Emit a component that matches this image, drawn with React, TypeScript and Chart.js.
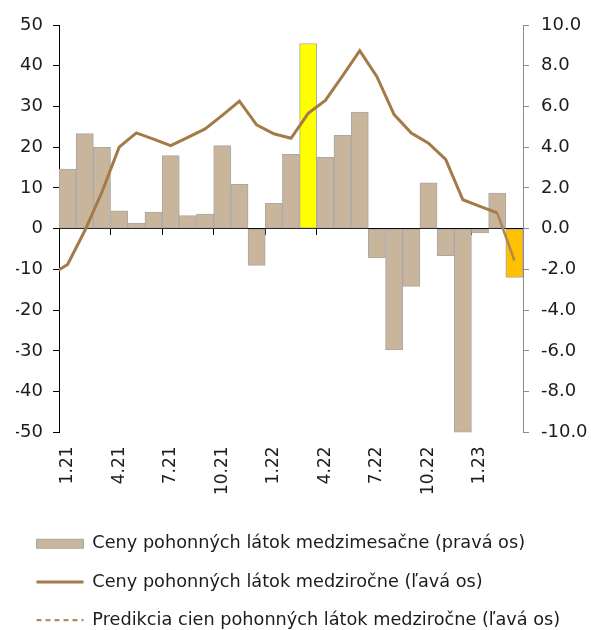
import React, { useEffect, useRef } from 'react';
import { Chart, registerables } from 'chart.js';

Chart.register(...registerables);

const FONT = "'DejaVu Sans', Verdana, sans-serif";

const categories = [
  '1.21', '2.21', '3.21', '4.21', '5.21', '6.21', '7.21', '8.21', '9.21', '10.21', '11.21', '12.21',
  '1.22', '2.22', '3.22', '4.22', '5.22', '6.22', '7.22', '8.22', '9.22', '10.22', '11.22', '12.22',
  '1.23', '2.23', '3.23',
];

// Month-on-month fuel prices (right axis, %)
const monthlyChange = [
  2.93, 4.67, 4.0, 0.88, 0.28, 0.82, 3.59, 0.64, 0.72, 4.08, 2.18, -1.8,
  1.24, 3.65, 9.09, 3.5, 4.58, 5.73, -1.44, -5.95, -2.83, 2.25, -1.33, -10.0,
  -0.21, 1.75, -2.39,
];

// Year-on-year fuel prices (left axis, %), 1.21 .. 2.23
const yearlyChange = [
  -8.8, -0.5, 9.0, 20.0, 23.5, 22.0, 20.4, 22.4, 24.5, 27.8, 31.3, 25.5,
  23.3, 22.2, 28.3, 31.5, 37.5, 43.7, 37.3, 28.0, 23.5, 21.0, 17.0, 7.1,
  5.5, 3.9,
];
// Year-on-year value for 12.20 (only the segment entering the plot is visible)
const yearlyBefore = -11.4;

// Prediction of year-on-year fuel prices (left axis), 2.23 .. 3.23
const predictionLabels = ['2.23', '3.23'];
const predictionValues = [3.9, -7.8];

const leftTicks = { min: -50, max: 50, step: 10 };
const rightTicks = { min: -10, max: 10, step: 2 };

const seriesNames = [
  'Ceny pohonných látok medzimesačne (pravá os)',
  'Ceny pohonných látok medziročne (ľavá os)',
  'Predikcia cien pohonných látok medziročne (ľavá os)',
];

const highlightYellowLabel = '3.22';
const highlightOrangeLabel = '3.23';

export default function App() {
  const canvasRef = useRef<HTMLCanvasElement | null>(null);

  useEffect(() => {
    if (!canvasRef.current) return;
    const textColor = '#1c1c1c';
    const tan = '#C9B49C';
    const lineColor = '#A47A48';
    const predColor = '#AD8654';
    const yellowIdx = categories.indexOf(highlightYellowLabel);
    const orangeIdx = categories.indexOf(highlightOrangeLabel);

    // category index positions; -1 is the month before the first category
    const linePoints = [{ x: -1, y: yearlyBefore }].concat(
      yearlyChange.map((v, i) => ({ x: i, y: v }))
    );
    const predData = categories.map((c) => {
      const k = predictionLabels.indexOf(c);
      return k >= 0 ? predictionValues[k] : null;
    });

    const chart = new Chart(canvasRef.current, {
      type: 'bar',
      data: {
        labels: categories,
        datasets: [
          {
            type: 'bar',
            label: seriesNames[0],
            data: monthlyChange,
            xAxisID: 'x',
            yAxisID: 'y2',
            backgroundColor: (ctx: any) =>
              ctx.dataIndex === yellowIdx ? '#FFFF00' : ctx.dataIndex === orangeIdx ? '#FFC000' : tan,
            borderColor: '#A8A8A8',
            borderWidth: 1,
            borderSkipped: false,
            barPercentage: 1,
            categoryPercentage: 1,
            order: 2,
          } as any,
          {
            type: 'line',
            label: seriesNames[1],
            data: linePoints,
            parsing: false,
            xAxisID: 'x',
            yAxisID: 'y',
            borderColor: lineColor,
            backgroundColor: lineColor,
            borderWidth: 3,
            pointRadius: 0,
            tension: 0,
            order: 1,
            clip: 0,
          } as any,
          {
            type: 'line',
            label: seriesNames[2],
            data: predData,
            xAxisID: 'x',
            yAxisID: 'y',
            borderColor: predColor,
            backgroundColor: predColor,
            borderWidth: 2.5,
            pointRadius: 0,
            tension: 0,
            order: 1,
          } as any,
        ],
      },
      options: {
        animation: false,
        responsive: true,
        maintainAspectRatio: false,
        layout: { padding: { left: 16, top: 25, right: 0, bottom: 0 } },
        plugins: {
          tooltip: { enabled: false },
          legend: {
            position: 'bottom',
            align: 'start',
            labels: {
              usePointStyle: true,
              pointStyleWidth: 47,
              boxHeight: 9,
              padding: 20.5,
              color: textColor,
              font: { size: 17.7, family: FONT },
              generateLabels: (c: any) => {
                const items = (Chart.defaults.plugins.legend.labels as any).generateLabels(c);
                return items
                  .map((it: any) => ({
                    ...it,
                    pointStyle: it.datasetIndex === 0 ? 'rect' : 'line',
                    lineDash: it.datasetIndex === 2 ? [5, 4] : it.lineDash,
                    lineWidth: it.datasetIndex === 2 ? 2.2 : it.lineWidth,
                    strokeStyle: it.datasetIndex === 2 ? '#B48C5A' : it.strokeStyle,
                  }))
                  .sort((a: any, b: any) => a.datasetIndex - b.datasetIndex);
              },
            },
          },
        },
        scales: {
          x: {
            type: 'category',
            labels: categories,
            position: 'bottom',
            offset: true,
            grid: { display: false, drawTicks: false },
            border: { display: false },
            ticks: {
              autoSkip: false,
              minRotation: 90,
              maxRotation: 90,
              padding: 14,
              color: textColor,
              font: { size: 17, family: FONT },
              callback: (_v: any, i: number) => (i % 3 === 0 ? categories[i] : ''),
            },
            afterFit: (s: any) => {
              s.height = 82;
            },
          },
          x2: {
            type: 'category',
            labels: categories,
            position: { y: 0 },
            offset: true,
            grid: {
              offset: true,
              drawOnChartArea: false,
              drawTicks: true,
              tickLength: 6,
              lineWidth: 1,
              color: (c: any) =>
                c.index === undefined || c.index % 3 === 0 ? '#000000' : 'rgba(0,0,0,0)',
            },
            border: { display: true, color: '#000000', width: 1 },
            ticks: { display: false },
          },
          y: {
            type: 'linear',
            position: 'left',
            min: leftTicks.min,
            max: leftTicks.max,
            ticks: {
              stepSize: leftTicks.step,
              padding: 10,
              color: textColor,
              font: { size: 18, family: FONT },
            },
            grid: { drawOnChartArea: false, tickLength: 6, color: '#000000' },
            border: { color: '#000000', width: 1 },
            afterFit: (s: any) => {
              s.width = 43;
            },
          },
          y2: {
            type: 'linear',
            position: 'right',
            min: rightTicks.min,
            max: rightTicks.max,
            ticks: {
              stepSize: rightTicks.step,
              padding: 12,
              color: textColor,
              font: { size: 18, family: FONT },
              callback: (v: any) => Number(v).toFixed(1),
            },
            grid: { drawOnChartArea: false, tickLength: 6, color: '#8C8C8C' },
            border: { color: '#8C8C8C', width: 1 },
            afterFit: (s: any) => {
              s.width = 68;
            },
          },
        },
      } as any,
    });

    return () => chart.destroy();
  }, []);

  return (
    <div
      style={{
        position: 'fixed',
        left: 0,
        top: 0,
        width: 591,
        height: 630,
        overflow: 'hidden',
        background: '#ffffff',
      }}
    >
      <div style={{ position: 'relative', width: 591, height: 639 }}>
        <canvas ref={canvasRef} />
      </div>
    </div>
  );
}
